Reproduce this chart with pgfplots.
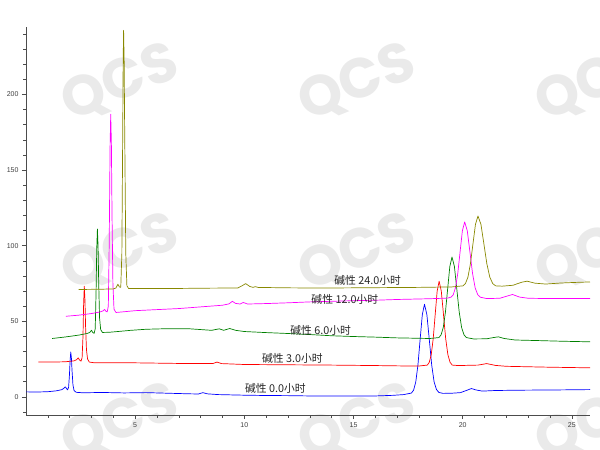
\documentclass[border=0pt]{standalone}
\usepackage{fontspec}
\setmainfont{Liberation Sans}
\newfontfamily\cjk{Noto Sans CJK SC}
\newfontfamily\wmfont{Poppins}
\usepackage{pgfplots}
\pgfplotsset{compat=1.18}

\definecolor{trBlue}{RGB}{0,0,255}
\definecolor{trRed}{RGB}{255,0,0}
\definecolor{trGreen}{RGB}{0,128,0}
\definecolor{trMagenta}{RGB}{255,0,255}
\definecolor{trOlive}{RGB}{136,136,0}
\definecolor{wm}{RGB}{234,234,234}

\begin{document}
\begin{tikzpicture}
\useasboundingbox (-26pt,-35pt) rectangle (574pt,415pt);
% background watermark
\foreach \wx in {94,331,568}{
  \foreach \wy in {332,162,-8}{
    \node[text=wm, rotate=22, font=\wmfont\bfseries\fontsize{56}{56}\selectfont]
      at (\wx pt,\wy pt) {QCS};
  }
}
\begin{axis}[
  width=564pt, height=388pt, scale only axis,
  xmin=0, xmax=25.83, ymin=-12, ymax=244.6,
  axis lines*=left,
  xtick={5,10,15,20,25}, ytick={0,50,100,150,200},
  minor xtick={1,2,...,26},
  minor ytick={-10,10,20,...,240},
  tick align=outside,
  major tick length=4pt, minor tick length=2.5pt,
  tick style={black!70, line width=0.5pt},
  axis line style={black!70, line width=0.7pt},
  ticklabel style={font=\fontsize{7}{8}\selectfont, text=black!75},
  /pgf/number format/assume math mode=true,
  every axis plot/.append style={line width=0.7pt, line join=round},
]
% 碱性 0.0 小时
\addplot[trBlue] coordinates {
(0,3.3) (0.5,3.2) (1.0,3.4) (1.4,4.0) (1.65,4.8) (1.75,5.9) (1.8,6.6) (1.85,5.6)
(1.9,4.6) (1.95,6.2) (1.99,14.5) (2.02,24) (2.05,29.7) (2.08,25.5) (2.11,17)
(2.15,8) (2.2,4.2) (2.3,3.0) (2.6,2.7) (3.5,2.9) (4.5,2.6) (5.5,2.8) (6.5,2.4)
(7.5,2.0) (7.9,1.9) (8.1,2.8) (8.3,2.0) (8.8,1.5) (10,1.1) (11,0.9) (12,0.8)
(13,0.6) (14,0.5) (15,0.5) (16,0.6) (16.8,1.0) (17.3,1.5) (17.65,2.5) (17.75,4.4)
(17.85,9.8) (17.95,21.1) (18.05,37.9) (18.15,54.3) (18.25,61.3) (18.36,54.3)
(18.47,37.9) (18.58,21.1) (18.69,9.9) (18.80,4.8) (18.91,2.9) (19.1,2.3)
(19.5,2.4) (19.9,2.8) (20.2,4.4) (20.4,5.5) (20.6,4.6) (20.9,3.8) (21.5,4.2)
(22.5,4.4) (23.5,4.5) (24.5,4.6) (25.83,4.8)
};
% 碱性 3.0 小时
\addplot[trRed] coordinates {
(0.57,23.1) (1.2,23.0) (1.8,23.2) (2.2,23.8) (2.32,24.6) (2.39,25.8) (2.45,24.4)
(2.52,23.6) (2.57,26) (2.61,40) (2.64,62) (2.67,73.2) (2.70,64) (2.73,46)
(2.77,31) (2.82,25) (2.9,23) (3.1,22.6) (4,22.6) (5,22.5) (6,22.3) (7,22.1)
(8,22.0) (8.55,22.0) (8.75,23.0) (8.95,22.0) (10,21.4) (12,21.2) (14,21.0)
(16,20.7) (17.5,20.4) (18.0,20.4) (18.38,21.0) (18.47,22.9) (18.56,28.0)
(18.65,38.6) (18.74,54.4) (18.83,69.9) (18.92,76.5) (19.02,69.9) (19.12,54.4)
(19.22,38.6) (19.32,28.0) (19.42,22.9) (19.52,21.0) (19.8,20.7) (20.7,21.0)
(21.1,22.0) (21.5,20.8) (22,20.2) (23,19.9) (24,19.6) (25.83,19.2)
};
% 碱性 6.0 小时
\addplot[trGreen] coordinates {
(1.2,38.6) (1.8,39.6) (2.4,40.8) (2.8,41.9) (2.92,42.6) (3.0,44.0) (3.06,42.5)
(3.12,42.0) (3.17,45) (3.21,70) (3.24,98) (3.27,111) (3.30,100) (3.33,75)
(3.37,52) (3.42,44.5) (3.5,42.6) (3.8,42.7) (4.2,43.2) (4.8,44.0) (5.5,44.7)
(6.5,45.1) (7.5,45.0) (8.5,44.0) (8.85,45.0) (9.05,44.0) (9.33,45.2) (9.6,44.0)
(10,43.2) (11,42.5) (12,41.9) (13,41.2) (14,40.4) (15,39.9) (16,39.5) (17,39.0)
(18.5,38.6) (18.91,39.2) (19.01,41.0) (19.11,45.9) (19.21,56.1) (19.31,71.3)
(19.41,86.2) (19.51,92.5) (19.62,86.2) (19.73,71.3) (19.84,56.1) (19.95,45.9)
(20.06,41.0) (20.17,39.2) (20.5,38.3) (21.1,38.4) (21.4,39.2) (21.63,39.7)
(21.9,38.6) (22.4,37.6) (23.5,37.2) (24.5,36.8) (25.83,36.4)
};
% 碱性 12.0 小时
\addplot[trMagenta] coordinates {
(1.83,53.3) (2.4,54.0) (3.0,55.1) (3.4,56.2) (3.52,56.8) (3.6,57.8) (3.66,56.6)
(3.72,56.2) (3.77,60) (3.81,100) (3.85,165) (3.88,186.9) (3.91,168) (3.94,120)
(3.98,75) (4.03,58) (4.12,55.8) (4.5,56.3) (5,57.0) (6,57.7) (7,58.4) (8,59.5)
(9,60.6) (9.3,61.5) (9.45,63.2) (9.6,61.8) (9.8,61.4) (9.95,62.4) (10.15,61.4)
(11,61.7) (12,62.2) (13,62.8) (14,63.2) (15,63.6) (16,63.9) (17,64.4)
(18.5,64.9) (19.3,65.3) (19.46,65.9) (19.565,67.5) (19.67,72.1) (19.775,81.7)
(19.88,95.9) (19.985,109.8) (20.09,115.7) (20.21,109.8) (20.33,95.9)
(20.45,81.7) (20.57,72.1) (20.69,67.5) (20.81,65.9) (21.1,65.0) (21.7,65.2)
(22.0,66.5) (22.28,67.7) (22.6,66.0) (23,65.2) (24,65.0) (25,65.0) (25.83,65.0)
};
% 碱性 24.0 小时
\addplot[trOlive] coordinates {
(2.41,71.0) (3.0,71.1) (3.5,71.2) (4.0,71.4) (4.12,72.0) (4.21,74.5) (4.28,72.6)
(4.34,72.5) (4.39,94.7) (4.43,175.3) (4.45,222.2) (4.47,242.4) (4.495,222.2)
(4.52,175.3) (4.57,94.7) (4.62,73.5) (4.7,71.6) (5.5,71.6) (7,71.7) (8.5,71.9)
(9.7,72.0) (9.9,73.5) (10.06,74.9) (10.25,73.0) (10.4,72.4) (10.5,72.9)
(10.65,72.3) (11,72.3) (12,72.1) (13,72.0) (14,72.0) (15,72.1) (16,72.2)
(17,72.3) (18,72.4) (19.5,72.7) (20.01,73.4) (20.125,74.9) (20.24,79.2)
(20.355,88.1) (20.47,101.2) (20.585,114.1) (20.7,119.6) (20.835,114.1)
(20.97,101.2) (21.105,88.1) (21.24,79.2) (21.375,74.9) (21.51,73.4)
(21.8,73.2) (22.3,73.8) (22.7,75.8) (22.95,76.5) (23.3,75.2) (23.8,74.6)
(24.5,75.3) (25.2,75.7) (25.83,76.0)
};
% series labels
\begin{scope}[every node/.style={font=\cjk\fontsize{10.8}{12}\selectfont, text=black!85, inner sep=0pt}]
\node at (axis cs:11.42,5.9) {碱性 0.0小时};
\node at (axis cs:12.2,25.4) {碱性 3.0小时};
\node at (axis cs:13.49,44.1) {碱性 6.0小时};
\node at (axis cs:14.6,64.6) {碱性 12.0小时};
\node at (axis cs:15.65,76.7) {碱性 24.0小时};
\end{scope}
\end{axis}
\end{tikzpicture}
\end{document}
